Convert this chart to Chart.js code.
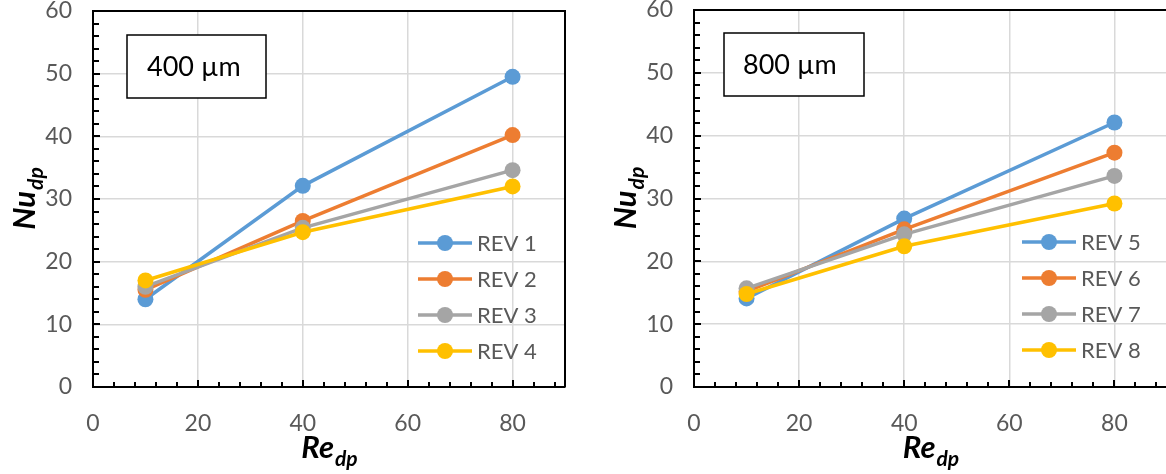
<!DOCTYPE html>
<html>
<head>
<meta charset="utf-8">
<script src="https://cdn.jsdelivr.net/npm/chart.js@4/dist/chart.umd.min.js"></script>
<style>
  html, body { margin: 0; padding: 0; background: #fff; overflow: hidden; }
  .wrap { position: absolute; top: 0; height: 474px; }
</style>
</head>
<body>
<div class="wrap" style="left:0;width:580px"><canvas id="left" width="580" height="474"></canvas></div>
<div class="wrap" style="left:600px;width:582px"><canvas id="right" width="582" height="474"></canvas></div>
<script>
// Re_dp values (x) and Nu_dp for each REV case
const reX = [10, 40, 80];
const rev1 = [14.0, 32.1, 49.5];
const rev2 = [15.5, 26.5, 40.2];
const rev3 = [16.0, 25.4, 34.6];
const rev4 = [17.0, 24.7, 32.0];
const rev5 = [14.1, 26.8, 42.1];
const rev6 = [15.2, 25.1, 37.3];
const rev7 = [15.7, 24.3, 33.6];
const rev8 = [14.8, 22.4, 29.2];
const namesLeft = ['REV 1', 'REV 2', 'REV 3', 'REV 4'];
const namesRight = ['REV 5', 'REV 6', 'REV 7', 'REV 8'];

const colors = ['#5B9BD5', '#ED7D31', '#A5A5A5', '#FFC000'];
const labelFont = 'Lato';
const gray = '#595959';

// frame, inner tick marks, size box, legend and axis titles
const decor = {
  id: 'decor',
  afterDraw(chart, args, o) {
    const ctx = chart.ctx;
    const a = chart.chartArea;
    const xs = chart.scales.x, ys = chart.scales.y;
    ctx.save();

    // top + right border
    ctx.strokeStyle = '#000';
    ctx.lineWidth = 2;
    ctx.beginPath();
    ctx.moveTo(a.left, a.top);
    ctx.lineTo(a.right, a.top);
    ctx.lineTo(a.right, a.bottom);
    ctx.stroke();

    // inside tick marks
    ctx.lineWidth = 2;
    ctx.beginPath();
    for (let v = xs.min; v <= xs.max; v += 4) {
      const px = Math.round(xs.getPixelForValue(v));
      const len = v % 20 === 0 ? 7 : 5;
      ctx.moveTo(px, a.bottom);
      ctx.lineTo(px, a.bottom - len);
    }
    for (let v = ys.min; v <= ys.max; v += 2) {
      const py = Math.round(ys.getPixelForValue(v));
      const len = v % 10 === 0 ? 7 : 6;
      ctx.moveTo(a.left, py);
      ctx.lineTo(a.left + len, py);
    }
    ctx.stroke();

    // size label box
    const b = o.box;
    ctx.fillStyle = '#fff';
    ctx.fillRect(a.left + b.x, a.top + b.y, b.w, b.h);
    ctx.lineWidth = 1.5;
    ctx.strokeRect(a.left + b.x, a.top + b.y, b.w, b.h);
    ctx.fillStyle = '#000';
    ctx.font = '27px ' + labelFont;
    ctx.textBaseline = 'middle';
    ctx.textAlign = 'left';
    ctx.fillText(o.text, a.left + b.x + b.tx, a.top + b.y + b.h / 2 + 1);

    // legend
    chart.data.datasets.forEach((ds, i) => {
      const lx = a.left + o.legend.x;
      const ly = a.top + o.legend.y + i * 36;
      ctx.strokeStyle = ds.borderColor;
      ctx.lineWidth = 3.5;
      ctx.beginPath();
      ctx.moveTo(lx, ly);
      ctx.lineTo(lx + 54, ly);
      ctx.stroke();
      ctx.fillStyle = ds.borderColor;
      ctx.beginPath();
      ctx.arc(lx + 27, ly, 8, 0, Math.PI * 2);
      ctx.fill();
      ctx.fillStyle = gray;
      ctx.font = '22px ' + labelFont;
      ctx.fillText(ds.label, lx + 59, ly + 1);
    });

    // axis titles with subscripts
    const drawSub = (main, sub, cx, cy) => {
      ctx.font = 'italic bold 31px ' + labelFont;
      const w1 = ctx.measureText(main).width;
      ctx.font = 'italic bold 21px ' + labelFont;
      const w2 = ctx.measureText(sub).width;
      const x0 = cx - (w1 + w2) / 2;
      ctx.fillStyle = '#000';
      ctx.textBaseline = 'alphabetic';
      ctx.font = 'italic bold 31px ' + labelFont;
      ctx.fillText(main, x0, cy);
      ctx.font = 'italic bold 21px ' + labelFont;
      ctx.fillText(sub, x0 + w1 + 1, cy + 8);
    };
    drawSub('Re', 'dp', (a.left + a.right) / 2, 458);
    ctx.save();
    ctx.translate(a.left - 58, (a.top + a.bottom) / 2);
    ctx.rotate(-Math.PI / 2);
    drawSub('Nu', 'dp', 0, 0);
    ctx.restore();

    ctx.restore();
  }
};

function makeChart(id, names, series, opts) {
  const datasets = series.map((s, i) => ({
    label: names[i],
    data: reX.map((x, j) => ({ x: x, y: s[j] })),
    borderColor: colors[i],
    backgroundColor: colors[i],
    pointBackgroundColor: colors[i],
    pointBorderWidth: 0,
    pointRadius: 8,
    pointHoverRadius: 8,
    borderWidth: 3.5,
    order: series.length - i
  }));
  return new Chart(document.getElementById(id), {
    type: 'line',
    data: { datasets: datasets },
    options: {
      responsive: false,
      animation: false,
      layout: { padding: { top: opts.top, right: 15, bottom: 0, left: 0 } },
      plugins: {
        legend: { display: false },
        tooltip: { enabled: false },
        decor: opts
      },
      scales: {
        x: {
          type: 'linear',
          min: 0,
          max: 90,
          afterFit: s => { s.height = 474 - 387; s.paddingLeft = 0; s.paddingRight = 0; },
          border: { color: '#000', width: 2 },
          grid: { color: '#d9d9d9', lineWidth: 1.5, drawTicks: false },
          ticks: {
            stepSize: 20,
            includeBounds: false,
            padding: 25,
            color: gray,
            font: { family: labelFont, size: 23, lineHeight: 1 }
          }
        },
        y: {
          min: 0,
          max: 60,
          afterFit: s => { s.width = opts.yWidth; s.paddingTop = 0; s.paddingBottom = 0; },
          border: { color: '#000', width: 2 },
          grid: { color: '#d9d9d9', lineWidth: 1.5, drawTicks: false },
          ticks: {
            stepSize: 10,
            padding: 21,
            color: gray,
            font: { family: labelFont, size: 23, lineHeight: 1 }
          }
        }
      }
    },
    plugins: [decor]
  });
}

makeChart('left', namesLeft, [rev1, rev2, rev3, rev4], {
  text: '400 \u00b5m', top: 11, yWidth: 93,
  box: { x: 34, y: 24, w: 139, h: 63, tx: 20 },
  legend: { x: 325, y: 232 }
});
makeChart('right', namesRight, [rev5, rev6, rev7, rev8], {
  text: '800 \u00b5m', top: 10, yWidth: 94,
  box: { x: 30, y: 23, w: 140, h: 63, tx: 19 },
  legend: { x: 328, y: 232 }
});
</script>
</body>
</html>
